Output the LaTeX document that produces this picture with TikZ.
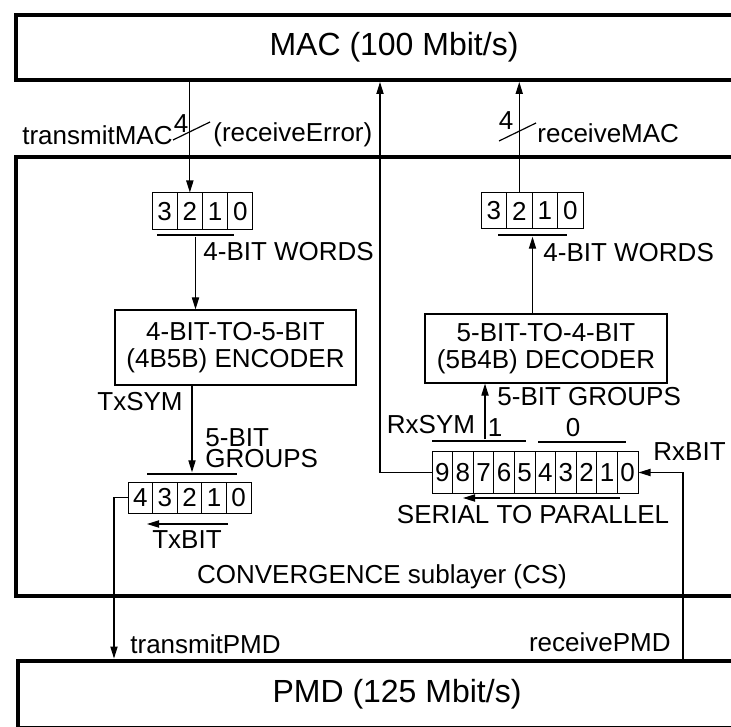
\documentclass[tikz,border=0pt]{standalone}
\usepackage{fontspec}
\setmainfont{Liberation Sans}
\usetikzlibrary{arrows.meta}

\begin{document}
\begin{tikzpicture}[x=0.5pt, y=-0.5pt, >={Triangle[length=6pt,width=3.6pt]}]
    \useasboundingbox (0,0) rectangle (731,726);

    % --- DEFINE STYLES ---
    % Style for the thick layer boxes
    \tikzstyle{layer} = [draw, line width=2pt, inner sep=0pt, font=\fontsize{16}{19}\selectfont]
    % Style for plain labels
    \tikzstyle{lbl} = [inner sep=0pt, font=\fontsize{13}{13.5}\selectfont]
    % Style for register bits
    \tikzstyle{bitq} = [lbl, draw, line width=0.5pt]
    % Style for the bars over and under the registers
    \tikzstyle{bus_bar} = [fill, inner sep=0pt, minimum height=1.3pt]
    % Style for the coder boxes
    \tikzstyle{coder} = [lbl, draw, line width=0.6pt, align=center]
    % Style for signal lines
    \tikzstyle{sig} = [line width=0.6pt]

    % --- LAYERS ---
    \node[layer, minimum width=378pt, minimum height=32.5pt] (mac) at (394,47.5) {MAC (100 Mbit/s)};
    \node[layer, minimum width=378pt, minimum height=219.5pt] (cs) at (394,376.5) {};
    \node[layer, minimum width=379pt, minimum height=33.5pt] (pmd) at (397,694) {PMD (125 Mbit/s)};
    \node[lbl] (cs_name) at (382,577) {CONVERGENCE sublayer (CS)};

    % --- REGISTERS ---
    % 4-bit words, transmit side
    \foreach \b [count=\i from 0] in {3,2,1,0}
        \node[bitq, minimum width=12.6pt, minimum height=18.5pt] (tw\b) at (164.6+25.25*\i, 211.5) {\b};
    % 4-bit words, receive side
    \foreach \b [count=\i from 0] in {3,2,1,0}
        \node[bitq, minimum width=12.75pt, minimum height=18pt] (rw\b) at (493.75+25.5*\i, 211) {\b};
    % 5-bit group, transmit side
    \foreach \b [count=\i from 0] in {4,3,2,1,0}
        \node[bitq, minimum width=12.3pt, minimum height=15.5pt] (tx\b) at (140.3+24.6*\i, 497.5) {\b};
    % serial to parallel, receive side
    \foreach \b [count=\i from 0] in {9,8,7,6,5,4,3,2,1,0}
        \node[bitq, minimum width=10.3pt, minimum height=20.8pt] (rx\b) at (442.3+20.6*\i, 472.5) {\b};

    % bars
    \node[bus_bar, minimum width=38.5pt] (tw_bar) at (195.5,235) {};
    \node[bus_bar, minimum width=34.5pt] (rw_bar) at (532.5,235) {};
    \node[bus_bar, minimum width=45pt] (tx_bar) at (192,474) {};
    \node[bus_bar, minimum width=47pt] (rx_one) at (479,441) {};
    \node[bus_bar, minimum width=44pt] (rx_zero) at (582,442) {};

    % --- CODERS ---
    \node[coder, minimum width=120.5pt, minimum height=37.5pt] (enc) at (235.5,347.5) {4-BIT-TO-5-BIT\\(4B5B) ENCODER};
    \node[coder, minimum width=121pt, minimum height=34.5pt] (dec) at (546,348.5) {5-BIT-TO-4-BIT\\(5B4B) DECODER};

    % free ends
    \coordinate (tx_pmd) at (114,0);
    \coordinate (rx_pmd) at (683,0);
    \coordinate (rx_err) at (380,0);
    \coordinate (txbit_from) at (228,524);
    \coordinate (txbit_to) at (147,524);
    \coordinate (s2p_from) at (620,498);
    \coordinate (s2p_to) at (463,498);

    % --- SIGNALS ---
    % transmit path
    \draw[sig, ->] (tw2.north |- mac.south) -- (tw2.north);
    \draw[sig, ->] (tw_bar) -- (tw_bar |- enc.north);
    \draw[sig, ->] (enc.south -| tx_bar) -- (tx_bar.north);
    \draw[sig, ->] (tx4.west) -| (pmd.north -| tx_pmd);
    \draw[sig, ->] (txbit_from) -- (txbit_to);
    % receive path
    \draw[sig, ->] (rx_pmd |- pmd.north) |- (rx0.east);
    \draw[sig, ->] (s2p_from) -- (s2p_to);
    \draw[sig, ->] (rx9.west) -| (rx_err |- mac.south);
    \draw[sig, ->] ([xshift=3pt]rx_one.north) -- ([xshift=3pt]rx_one.north |- dec.south);
    \draw[sig, ->] (rw_bar |- dec.north) -- (rw_bar.south);
    \draw[sig, ->] (rw2.north) -- (rw2.north |- mac.south);
    % bus width marks
    \draw[sig] (173,140) -- (210,122);
    \draw[sig] (499,141) -- (536,123);

    % --- LABELS ---
    \node[lbl, anchor=east] (tx_mac) at (173,135) {transmitMAC};
    \node[lbl] (tx_width) at (181,124) {4};
    \node[lbl, anchor=west] (rx_error) at (213,135) {(receiveError)};
    \node[lbl] (rx_width) at (506,121) {4};
    \node[lbl, anchor=west] (rx_mac) at (537,133) {receiveMAC};
    \node[lbl, anchor=west] (tw_name) at (203,252) {4-BIT WORDS};
    \node[lbl, anchor=west] (rw_name) at (543,253) {4-BIT WORDS};
    \node[lbl] (tx_sym) at (140,402) {TxSYM};
    \node[lbl, anchor=west, align=left, font=\fontsize{13}{10.8}\selectfont] (tx_groups) at (205,448) {5-BIT\\GROUPS};
    \node[lbl] (rx_sym) at (431,425) {RxSYM};
    \node[lbl, anchor=west] (rx_groups) at (497,397) {5-BIT GROUPS};
    \node[lbl] (one_name) at (495,428) {1};
    \node[lbl] (zero_name) at (573,428) {0};
    \node[lbl, anchor=west] (rx_bit) at (653,452) {RxBIT};
    \node[lbl] (s2p_name) at (533,515) {SERIAL TO PARALLEL};
    \node[lbl] (tx_bit) at (187,540) {TxBIT};
    \node[lbl, anchor=west] (tx_pmd_name) at (130,644) {transmitPMD};
    \node[lbl, anchor=east] (rx_pmd_name) at (671,642) {receivePMD};
\end{tikzpicture}
\end{document}
